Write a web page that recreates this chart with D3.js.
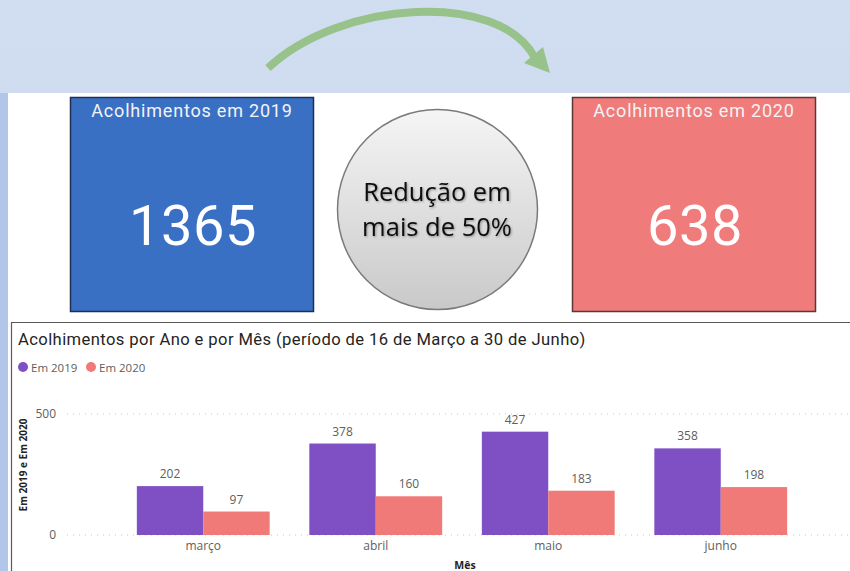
<!DOCTYPE html>
<html><head><meta charset="utf-8">
<script src="https://cdn.jsdelivr.net/npm/d3@7"></script>
<style>body{margin:0;padding:0;overflow:hidden;background:#fff}svg{display:block}</style>
</head><body>
<script>
const months = ["março","abril","maio","junho"];
const series = ["Em 2019","Em 2020"];
const values2019 = [202,378,427,358];
const values2020 = [97,160,183,198];
const yTicks = [0,500];
const kpiLabels = ["Acolhimentos em 2019","Acolhimentos em 2020"];
const kpiValues = [1365,638];
const colors = ["#7f4fc4","#ef7a78"];
const kpiColors = ["#3a70c3","#ef7b7b"];
const kpiBorders = ["#1d2f55","#5a3838"];

const W=850,H=571;
const svg=d3.select("body").append("svg").attr("width",W).attr("height",H);
const defs=svg.append("defs");
const bg=defs.append("linearGradient").attr("id","bg").attr("x1",0).attr("y1",0).attr("x2",0).attr("y2",1);
bg.append("stop").attr("offset","0").attr("stop-color","#d1ddf0");
bg.append("stop").attr("offset","1").attr("stop-color","#c6d4ec");
svg.append("rect").attr("width",W).attr("height",H).attr("fill","url(#bg)");
svg.append("rect").attr("x",0).attr("y",93).attr("width",8).attr("height",H-93).attr("fill","#b1c6e8");
svg.append("rect").attr("x",8).attr("y",93).attr("width",W-8).attr("height",H-93).attr("fill","#fff");

// arrow
svg.append("path").attr("d","M268,68 C340,0 500,-10 535,58").attr("fill","none").attr("stroke","#97c28a").attr("stroke-width",8);
svg.append("path").attr("d","M524,63 L543,47 L550,73 Z").attr("fill","#97c28a");

// KPI boxes
const kpiX=[70,572];
kpiX.forEach((x,i)=>{
  const g=svg.append("g");
  g.append("rect").attr("x",x+0.5).attr("y",97.5).attr("width",243).attr("height",214).attr("fill",kpiColors[i]).attr("stroke",kpiBorders[i]).attr("stroke-width",1.5);
  g.append("text").attr("x",x+122).attr("y",117).attr("text-anchor","middle").attr("fill","#f3f3f3")
    .style("font-family","Roboto, 'DejaVu Sans', sans-serif").style("font-size","18px").style("letter-spacing","0.8px").text(kpiLabels[i]);
  g.append("text").attr("x",x+123).attr("y",245).attr("text-anchor","middle").attr("fill","#ffffff")
    .style("font-family","Roboto, 'DejaVu Sans', sans-serif").style("font-size","56px").style("letter-spacing","0.5px").text(kpiValues[i]);
});

// circle
const rg=defs.append("linearGradient").attr("id","cg").attr("x1",0).attr("y1",0).attr("x2",0).attr("y2",1);
rg.append("stop").attr("offset","0").attr("stop-color","#f5f5f5");
rg.append("stop").attr("offset","1").attr("stop-color","#c9c9c9");
svg.append("circle").attr("cx",437.5).attr("cy",209.5).attr("r",100).attr("fill","url(#cg)").attr("stroke","#7a7a7a").attr("stroke-width",1.5);
const f=defs.append("filter").attr("id","sh");
f.append("feDropShadow").attr("dx",1).attr("dy",1).attr("stdDeviation",0.8).attr("flood-color","#000").attr("flood-opacity",0.35);
["Redução em","mais de 50%"].forEach((t,i)=>{
  svg.append("text").attr("x",437).attr("y",201+i*35).attr("text-anchor","middle").attr("fill","#111")
    .attr("filter","url(#sh)")
    .style("font-family","'Open Sans', 'Noto Sans', sans-serif").style("font-size","25.5px").text(t);
});

// chart panel
svg.append("path").attr("d","M11.5,571 V322.5 H850").attr("fill","none").attr("stroke","#5a5a5a").attr("stroke-width",1.2);
svg.append("text").attr("x",18).attr("y",345).attr("fill","#252423")
  .style("font-family","Roboto, sans-serif").style("font-size","16.6px").style("letter-spacing","0.4px")
  .text("Acolhimentos por Ano e por Mês (período de 16 de Março a 30 de Junho)");
// legend
const lg=svg.append("g");
const legX=[23,91];
series.forEach((s,i)=>{
  lg.append("circle").attr("cx",legX[i]).attr("cy",367).attr("r",5).attr("fill",colors[i]);
  lg.append("text").attr("x",legX[i]+8).attr("y",371.5).attr("fill","#605e5c")
    .style("font-family","'Open Sans', sans-serif").style("font-size","11.5px").text(s);
});

const x0=d3.scaleBand().domain(months).range([117,807]).paddingInner(0.23).paddingOuter(0.115);
const x1=d3.scaleBand().domain(series).range([0,x0.bandwidth()]);
const y=d3.scaleLinear().domain([0,500]).range([535,414]);

// grid
svg.append("g").selectAll("line").data(yTicks).join("line")
  .attr("x1",67).attr("x2",850).attr("y1",d=>y(d)).attr("y2",d=>y(d))
  .attr("stroke","#c8c6c4").attr("stroke-dasharray","1,5").attr("stroke-width",1);
const yAxis=d3.axisLeft(y).tickValues(yTicks).tickSize(0).tickPadding(0);
const ya=svg.append("g").attr("transform","translate(56,0)").call(yAxis);
ya.select(".domain").remove();
ya.selectAll("text").attr("fill","#605e5c").style("font-family","'Open Sans', sans-serif").style("font-size","12px");

svg.append("text").attr("transform","translate(27,465) rotate(-90)").attr("text-anchor","middle").attr("fill","#252423")
  .style("font-family","'Open Sans', sans-serif").style("font-size","10px").style("font-weight","bold").text("Em 2019 e Em 2020");

const data=months.map((m,i)=>({m,vals:[values2019[i],values2020[i]]}));
const grp=svg.append("g").selectAll("g").data(data).join("g").attr("transform",d=>`translate(${x0(d.m)},0)`);
grp.selectAll("rect").data(d=>d.vals.map((v,i)=>({s:series[i],v,i}))).join("rect")
  .attr("x",d=>x1(d.s)).attr("width",x1.bandwidth()).attr("y",d=>y(d.v)).attr("height",d=>y(0)-y(d.v)).attr("fill",d=>colors[d.i]);
grp.selectAll("text").data(d=>d.vals.map((v,i)=>({s:series[i],v,i}))).join("text")
  .attr("x",d=>x1(d.s)+x1.bandwidth()/2).attr("y",d=>y(d.v)-8).attr("text-anchor","middle").attr("fill","#605e5c")
  .style("font-family","'Open Sans', sans-serif").style("font-size","12px").text(d=>d.v);

const xAxis=d3.axisBottom(x0).tickSize(0).tickPadding(0);
const xa=svg.append("g").attr("transform","translate(0,541)").call(xAxis);
xa.select(".domain").remove();
xa.selectAll("text").attr("dy","0.71em").attr("fill","#605e5c").style("font-family","'Open Sans', sans-serif").style("font-size","12px");
svg.append("text").attr("x",465).attr("y",569).attr("text-anchor","middle").attr("fill","#252423")
  .style("font-family","'Open Sans', sans-serif").style("font-size","10.5px").style("font-weight","bold").text("Mês");
</script>
</body></html>
